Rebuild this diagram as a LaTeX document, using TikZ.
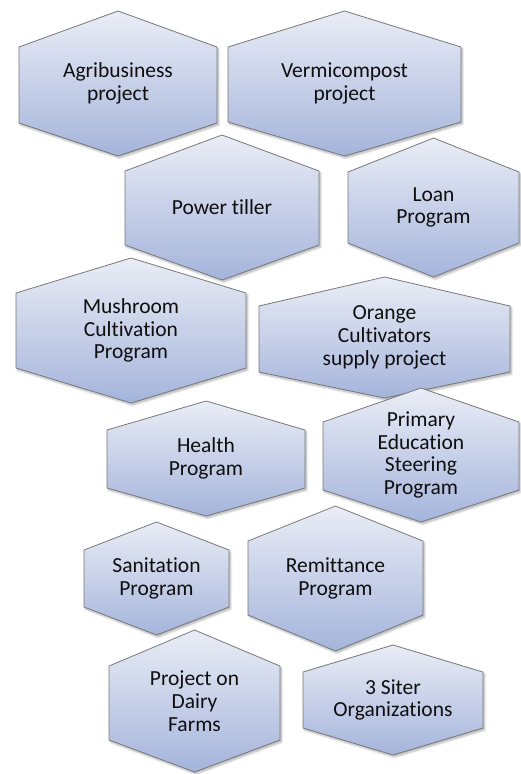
\documentclass[tikz,border=0pt]{standalone}
\usepackage{fontspec}
\setmainfont{Carlito}[RawFeature={-liga}]
\usetikzlibrary{shadows.blur}

\definecolor{hextop}{RGB}{234,237,246}
\definecolor{hexbot}{RGB}{164,180,219}
\definecolor{hexline}{RGB}{120,120,120}
\definecolor{hexink}{RGB}{15,15,15}

\tikzset{
  hexfill/.style={draw=hexline, line width=0.8pt, line join=miter,
    top color=hextop, bottom color=hexbot,
    blur shadow={shadow xshift=1.5pt, shadow yshift=-2pt,
      shadow opacity=30, shadow blur steps=6, shadow blur radius=2pt}},
  hextext/.style={align=center, text=hexink, inner sep=0pt,
    font=\fontsize{21.5}{22.8}\selectfont}
}

% #1 name, #2 left, #3 right, #4 top vertex, #5 upper shoulder,
% #6 lower shoulder, #7 bottom vertex, #8 label
\newcommand\hexitem[8]{%
  \path[hexfill] ({(#2+#3)/2},#4) -- (#3,#5) -- (#3,#6) -- ({(#2+#3)/2},#7)
    -- (#2,#6) -- (#2,#5) -- cycle;
  \node[hextext] (#1) at ({(#2+#3)/2},{(#4+#7)/2}) {#8};
}

\begin{document}
\begin{tikzpicture}[x=1pt, y=-1pt]
  \useasboundingbox (0,0) rectangle (520,774);

  \hexitem{agri}{19}{217}{11}{47}{123}{156}{Agribusiness\\project}
  \hexitem{vermi}{228}{461}{11}{47}{122}{156}{Vermicompost\\project}
  \hexitem{tiller}{125}{319}{135}{171}{245}{280}{Power tiller}
  \hexitem{loan}{348}{519}{138}{172}{243}{277}{Loan\\Program}
  \hexitem{mushroom}{16}{246}{258}{293}{368}{403}{Mushroom\\Cultivation\\Program}
  \hexitem{orange}{259}{510}{277}{306}{372}{398}{Orange\\Cultivators\\supply project}
  \hexitem{health}{107}{305}{401}{430}{488}{516}{Health\\Program}
  \hexitem{primary}{323}{519}{388}{422}{490}{522}{Primary\\Education\\Steering\\Program}
  \hexitem{sanitation}{84}{229}{522}{550}{607}{635}{Sanitation\\Program}
  \hexitem{remit}{248}{423}{506}{541}{615}{651}{Remittance\\Program}
  \hexitem{dairy}{109}{280}{630}{666}{740}{772}{Project on\\Dairy\\Farms}
  \hexitem{siter}{303}{483}{645}{672}{728}{755}{3 Siter\\Organizations}
\end{tikzpicture}
\end{document}
